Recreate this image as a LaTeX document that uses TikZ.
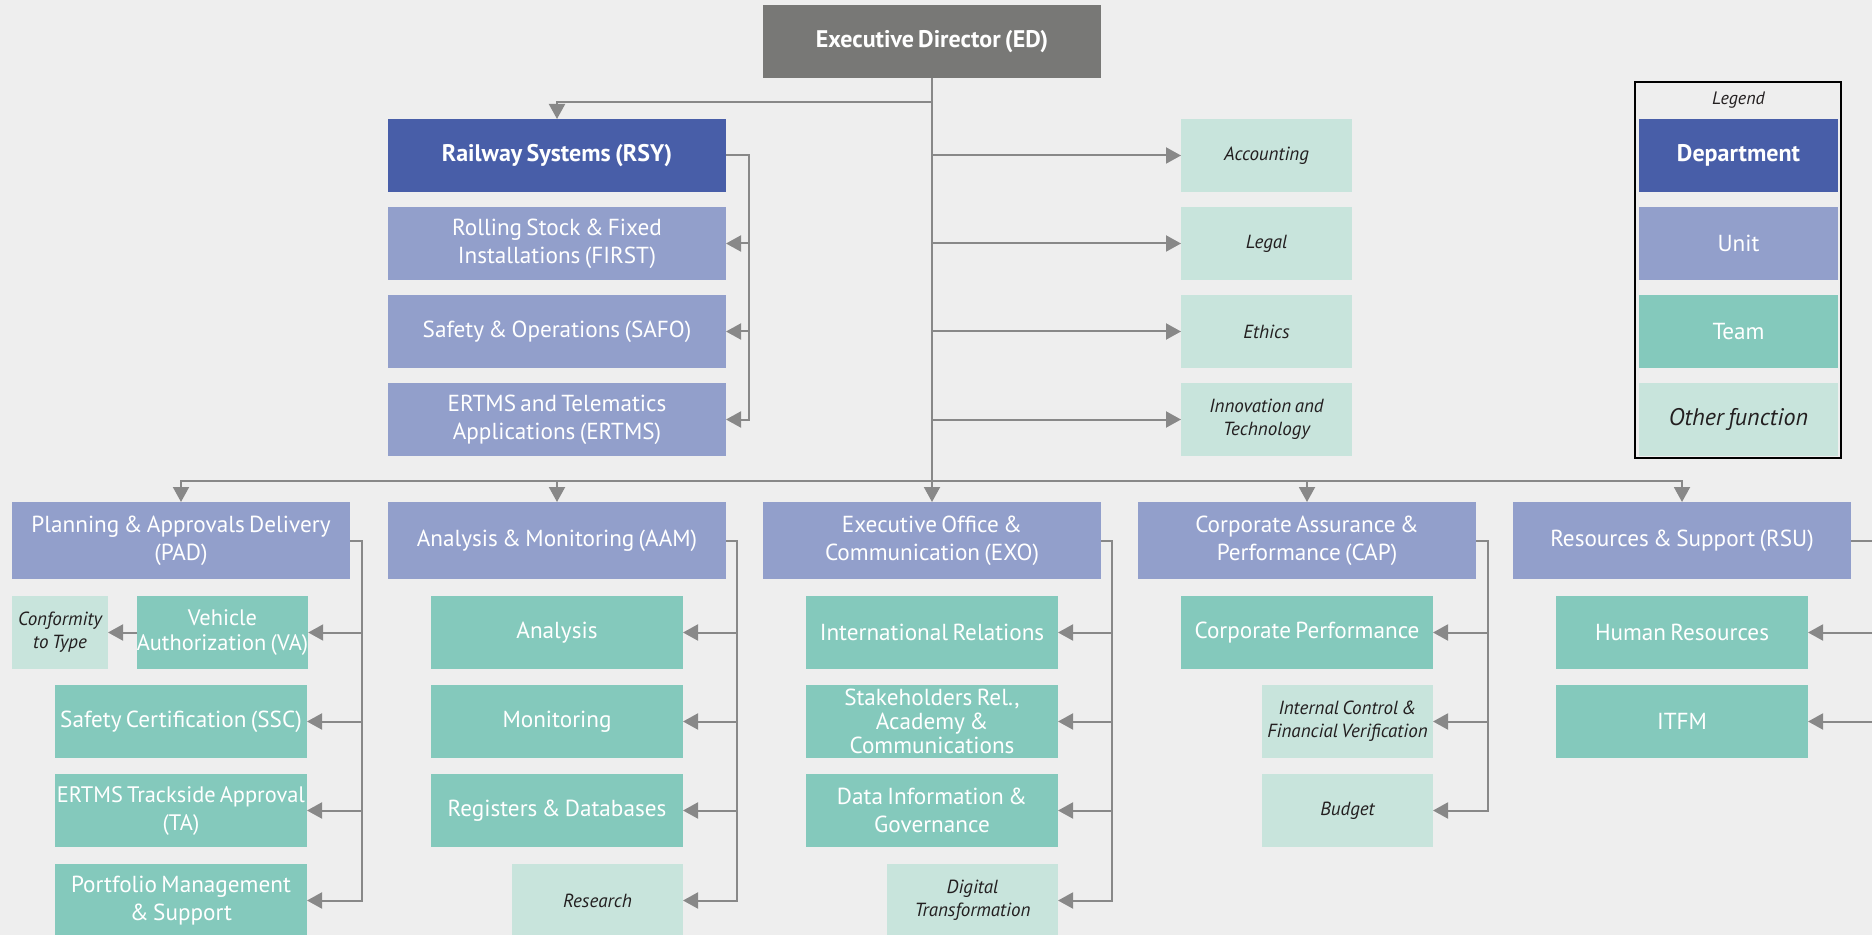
\documentclass[tikz,border=0pt]{standalone}
\usepackage{fontspec}
\setmainfont[WordSpace=0.7]{PT Sans}
\usetikzlibrary{arrows.meta, positioning, calc}
\usepackage{xcolor}

\definecolor{bgcol}{HTML}{EEEEEE}
\definecolor{edcol}{HTML}{787876}
\definecolor{deptcol}{HTML}{485EA8}
\definecolor{unitcol}{HTML}{929FCB}
\definecolor{teamcol}{HTML}{84C9BC}
\definecolor{othercol}{HTML}{C8E4DC}
\definecolor{linecol}{HTML}{888888}
\definecolor{txtcol}{HTML}{231F20}

\begin{document}
\begin{tikzpicture}[x=0.5pt, y=-0.5pt,
    box/.style={rectangle, inner sep=0pt, outer sep=0pt, align=center, text=white,
                minimum height=36.5pt, font=\fontsize{11.6}{14}\selectfont},
    head/.style={box, fill=edcol, minimum width=169pt, font=\fontsize{12}{14}\selectfont\bfseries},
    dept/.style={box, fill=deptcol, minimum width=169pt, font=\fontsize{12}{14}\selectfont\bfseries},
    unit/.style={box, fill=unitcol, minimum width=169pt},
    team/.style={box, fill=teamcol, minimum width=126pt},
    other/.style={box, fill=othercol, text=txtcol, minimum width=85.5pt,
                  font=\fontsize{9.5}{11.5}\selectfont\itshape},
    arr/.style={-{Triangle[length=7.5pt, width=8pt]}, draw=linecol, line width=1pt}
]

% --- Page ---
\useasboundingbox (0,0) rectangle (1872,935);
\clip (0,0) rectangle (1872,935);
\fill[bgcol] (0,0) rectangle (1872,935);

% --- Grid Coordinates ---
% Columns (centres of the five units)
\def\cA{181}
\def\cB{557}
\def\cC{932}
\def\cD{1307}
\def\cE{1682}
\def\cF{1266.5} % other functions at the top
\def\cL{1738.5} % legend

% Rows
\def\rO{41.5}   % ED
\def\rI{155.5}  % RSY / Accounting
\def\rII{243.5}
\def\rIII{331.5}
\def\rIV{419.5}
\def\rU{540.5}  % units
\def\rA{632.5}  % teams
\def\rB{721.5}
\def\rC{810.5}
\def\rD{900.5}

% --- Top ---
\node[head] (ed) at (\cC, \rO) {Executive Director (ED)};

\node[dept] (rsy)   at (\cB, \rI)   {Railway Systems (RSY)};
\node[unit] (first) at (\cB, \rII)  {Rolling Stock \& Fixed\\Installations (FIRST)};
\node[unit] (safo)  at (\cB, \rIII) {Safety \& Operations (SAFO)};
\node[unit] (ertms) at (\cB, \rIV)  {ERTMS and Telematics\\Applications (ERTMS)};

\node[other] (acc)    at (\cF, \rI)   {Accounting};
\node[other] (legal)  at (\cF, \rII)  {Legal};
\node[other] (ethics) at (\cF, \rIII) {Ethics};
\node[other] (innov)  at (\cF, \rIV)  {Innovation and\\Technology};

% --- Legend ---
\node[font=\fontsize{9}{11}\selectfont\itshape, text=txtcol] (lgtitle) at (\cL, 100) {Legend};
\node[dept, minimum width=99.5pt]  (lgdept)  at (\cL, \rI)   {Department};
\node[unit, minimum width=99.5pt]  (lgunit)  at (\cL, \rII)  {Unit};
\node[team, minimum width=99.5pt]  (lgteam)  at (\cL, \rIII) {Team};
\node[other, minimum width=99.5pt, font=\fontsize{12}{14}\selectfont\itshape] (lgother) at (\cL, \rIV) {Other function};
\draw[black, line width=0.8pt] (1635,82) rectangle (1841,458);

% --- Units ---
\node[unit, minimum height=38.5pt] (pad) at (\cA, \rU) {Planning \& Approvals Delivery\\(PAD)};
\node[unit, minimum height=38.5pt] (aam) at (\cB, \rU) {Analysis \& Monitoring (AAM)};
\node[unit, minimum height=38.5pt] (exo) at (\cC, \rU) {Executive Office \&\\Communication (EXO)};
\node[unit, minimum height=38.5pt] (cap) at (\cD, \rU) {Corporate Assurance \&\\Performance (CAP)};
\node[unit, minimum height=38.5pt] (rsu) at (\cE, \rU) {Resources \& Support (RSU)};

% --- PAD ---
\node[other, minimum width=48pt] (conf) at (60, \rA) {Conformity\\to Type};
\node[team, minimum width=85.5pt, font=\fontsize{11.2}{12.5}\selectfont] (va) at (222.5, \rA) {Vehicle\\Authorization (VA)};
\node[team] (ssc) at (\cA, \rB) {Safety Certification (SSC)};
\node[team, font=\fontsize{11.2}{14}\selectfont] (ta) at (\cA, \rC) {ERTMS Trackside Approval\\(TA)};
\node[team] (pms) at (\cA, \rD) {Portfolio Management\\\& Support};

% --- AAM ---
\node[team]  (analysis) at (\cB, \rA) {Analysis};
\node[team]  (monit)    at (\cB, \rB) {Monitoring};
\node[team]  (regdb)    at (\cB, \rC) {Registers \& Databases};
\node[other] (research) at (\cB+40.5, \rD) {Research};

% --- EXO ---
\node[team]  (intrel)  at (\cC, \rA) {International Relations};
\node[team, font=\fontsize{11.6}{12}\selectfont] (stake) at (\cC, \rB) {Stakeholders Rel.,\\Academy \&\\Communications};
\node[team]  (datagov) at (\cC, \rC) {Data Information \&\\Governance};
\node[other] (digital) at (\cC+40.5, \rD) {Digital\\Transformation};

% --- CAP ---
\node[team]  (corpperf) at (\cD, \rA) {Corporate Performance};
\node[other] (intctrl)  at (\cD+40.5, \rB) {Internal Control \&\\Financial Verification};
\node[other] (budget)   at (\cD+40.5, \rC) {Budget};

% --- RSU ---
\node[team] (hr)   at (\cE, \rA) {Human Resources};
\node[team] (itfm) at (\cE, \rB) {ITFM};

% --- Arrows ---
\coordinate (rsyhub) at (\cC, 102);
\coordinate (hub) at (\cC, 481);

% ED trunk
\draw[arr] (ed.south) -- (exo.north);
\draw[arr] (rsyhub) -| (rsy.north);
\foreach \f in {acc, legal, ethics, innov}
    \draw[arr] (ed.south |- \f.west) -- (\f.west);
\foreach \u in {pad, aam, cap, rsu}
    \draw[arr] (hub) -| (\u.north);

% Brackets
\foreach \c in {first, safo, ertms}
    \draw[arr] (rsy.east) -- ++(23,0) |- (\c.east);
\foreach \c in {va, ssc, ta, pms}
    \draw[arr] (pad.east) -- ++(12,0) |- (\c.east);
\draw[arr] (va.west) -- (conf.east);
\foreach \c in {analysis, monit, regdb, research}
    \draw[arr] (aam.east) -- ++(11,0) |- (\c.east);
\foreach \c in {intrel, stake, datagov, digital}
    \draw[arr] (exo.east) -- ++(11,0) |- (\c.east);
\foreach \c in {corpperf, intctrl, budget}
    \draw[arr] (cap.east) -- ++(12,0) |- (\c.east);
\foreach \c in {hr, itfm}
    \draw[arr] (rsu.east) -- ++(30,0) |- (\c.east);

\end{tikzpicture}
\end{document}
